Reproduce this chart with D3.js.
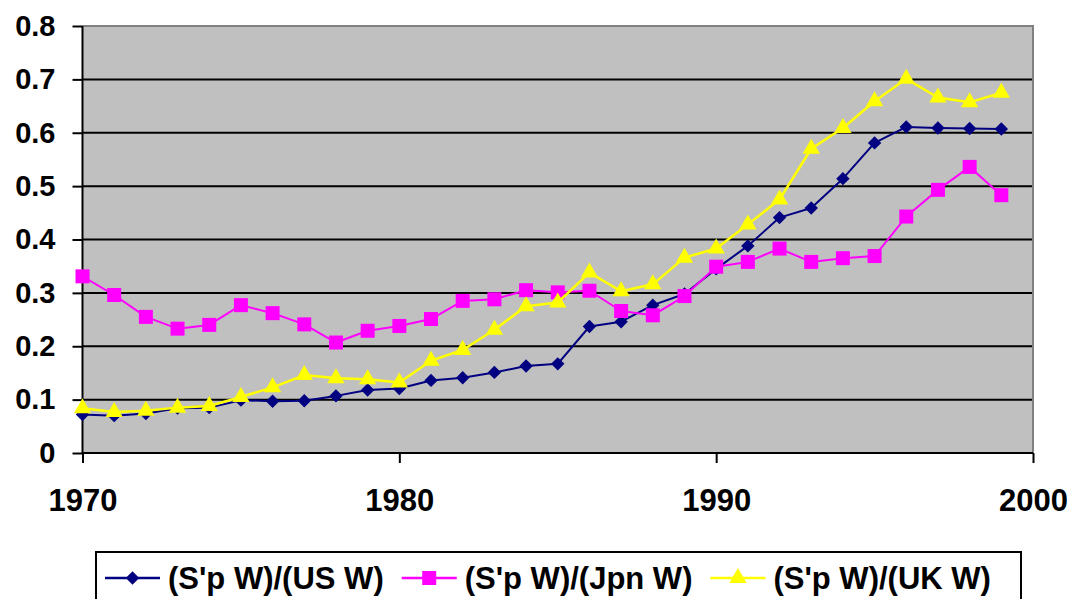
<!DOCTYPE html>
<html>
<head>
<meta charset="utf-8">
<script src="https://cdn.jsdelivr.net/npm/d3@7"></script>
<style>
  body { margin: 0; background: #fff; }
  svg text { font-family: Arial, "Liberation Sans", sans-serif; font-weight: bold; fill: #000; }
</style>
</head>
<body>
<svg id="chart"></svg>
<script>
// years 1970..1999
const years = d3.range(1970, 2000);

const usRatio = [0.072, 0.070, 0.074, 0.084, 0.085, 0.099, 0.097, 0.098, 0.107, 0.118,
                 0.121, 0.136, 0.141, 0.151, 0.163, 0.167, 0.237, 0.246, 0.277, 0.298,
                 0.345, 0.388, 0.441, 0.459, 0.514, 0.581, 0.611, 0.609, 0.608, 0.607];

const jpnRatio = [0.331, 0.296, 0.255, 0.233, 0.240, 0.277, 0.262, 0.241, 0.207, 0.229,
                  0.238, 0.251, 0.285, 0.288, 0.305, 0.301, 0.304, 0.266, 0.258, 0.294,
                  0.349, 0.358, 0.383, 0.358, 0.365, 0.369, 0.443, 0.493, 0.536, 0.483];

const ukRatio = [0.084, 0.077, 0.079, 0.085, 0.088, 0.105, 0.123, 0.146, 0.140, 0.138,
                 0.132, 0.173, 0.193, 0.231, 0.275, 0.282, 0.338, 0.303, 0.316, 0.366,
                 0.383, 0.428, 0.475, 0.570, 0.609, 0.659, 0.701, 0.666, 0.657, 0.675];

const seriesNames = ["(S'p W)/(US W)", "(S'p W)/(Jpn W)", "(S'p W)/(UK W)"];
const yTicks = [0, 0.1, 0.2, 0.3, 0.4, 0.5, 0.6, 0.7, 0.8];
const xTicks = [1970, 1980, 1990, 2000];

const series = [
  { name: seriesNames[0], values: usRatio, color: "#000080", width: 2, shape: "diamond" },
  { name: seriesNames[1], values: jpnRatio, color: "#ff00ff", width: 2, shape: "square" },
  { name: seriesNames[2], values: ukRatio, color: "#ffff00", width: 2.5, shape: "triangle" }
];

const W = 1072, H = 599;
const margin = { top: 26, right: 39, bottom: 146, left: 82.5 };
const width = W - margin.left - margin.right;
const height = H - margin.top - margin.bottom;

const svg = d3.select("#chart").attr("width", W).attr("height", H);
const g = svg.append("g").attr("transform", `translate(${margin.left},${margin.top})`);

const x = d3.scaleLinear().domain([1970, 2000]).range([0, width]);
const y = d3.scaleLinear().domain([0, 0.8]).range([height, 0]);

// plot area
g.append("rect").attr("width", width).attr("height", height).attr("fill", "#c0c0c0");

// gridlines
g.selectAll(".grid")
  .data(yTicks.filter(d => d > 0 && d < 0.8))
  .join("line")
  .attr("x1", 0).attr("x2", width)
  .attr("y1", d => y(d)).attr("y2", d => y(d))
  .attr("stroke", "#000").attr("stroke-width", 2);

// gray border top / right
g.append("path")
  .attr("d", `M0,0H${width}V${height}`)
  .attr("fill", "none").attr("stroke", "#808080").attr("stroke-width", 2);

// axes
const yAxis = g.append("g")
  .call(d3.axisLeft(y).tickValues(yTicks).tickFormat(d3.format(".1~f")).tickSize(10).tickPadding(17));
const xAxis = g.append("g").attr("transform", `translate(0,${height})`)
  .call(d3.axisBottom(x).tickValues(xTicks).tickFormat(d3.format("d")).tickSize(10).tickPadding(26));

[yAxis, xAxis].forEach(a => {
  a.select(".domain").attr("stroke", "#000").attr("stroke-width", 2);
  a.selectAll(".tick line").attr("stroke", "#000").attr("stroke-width", 2);
  a.selectAll("text").attr("fill", "#000");
});
yAxis.selectAll("text").style("font-size", "29px");
xAxis.selectAll("text").style("font-size", "31px");
yAxis.select(".domain").attr("d", `M0,0V${height}`);
xAxis.select(".domain").attr("d", `M0,0H${width}`);

// marker generator
function marker(shape) {
  if (shape === "diamond") return d3.symbol(d3.symbolSquare, 90)();
  if (shape === "square") return d3.symbol(d3.symbolSquare, 196)();
  return d3.symbol(d3.symbolTriangle, 130)();
}

const line = d3.line().x((d, i) => x(years[i])).y(d => y(d));

series.forEach(s => {
  const sg = g.append("g");
  sg.append("path")
    .datum(s.values)
    .attr("d", line)
    .attr("fill", "none")
    .attr("stroke", s.color)
    .attr("stroke-width", s.width)
    .attr("stroke-linejoin", "round");
  sg.selectAll(".pt")
    .data(s.values)
    .join("path")
    .attr("d", marker(s.shape))
    .attr("transform", (d, i) => `translate(${x(years[i])},${y(d)})` + (s.shape === "diamond" ? " rotate(45)" : ""))
    .attr("fill", s.color);
});

// legend
const legend = svg.append("g");
legend.append("rect")
  .attr("x", 96).attr("y", 552).attr("width", 925).attr("height", 60)
  .attr("fill", "#fff").attr("stroke", "#000").attr("stroke-width", 2);

let lx = 105;
const ly = 578;
series.forEach(s => {
  const item = legend.append("g");
  item.append("line")
    .attr("x1", lx).attr("x2", lx + 55).attr("y1", ly).attr("y2", ly)
    .attr("stroke", s.color).attr("stroke-width", 2.5);
  item.append("path")
    .attr("d", marker(s.shape))
    .attr("transform", `translate(${lx + 27.5},${ly})` + (s.shape === "diamond" ? " rotate(45)" : ""))
    .attr("fill", s.color);
  const t = item.append("text")
    .attr("x", lx + 63).attr("y", ly + 11)
    .style("font-size", "31px")
    .text(s.name);
  lx += 63 + t.node().getComputedTextLength() + 18;
});
</script>
</body>
</html>
